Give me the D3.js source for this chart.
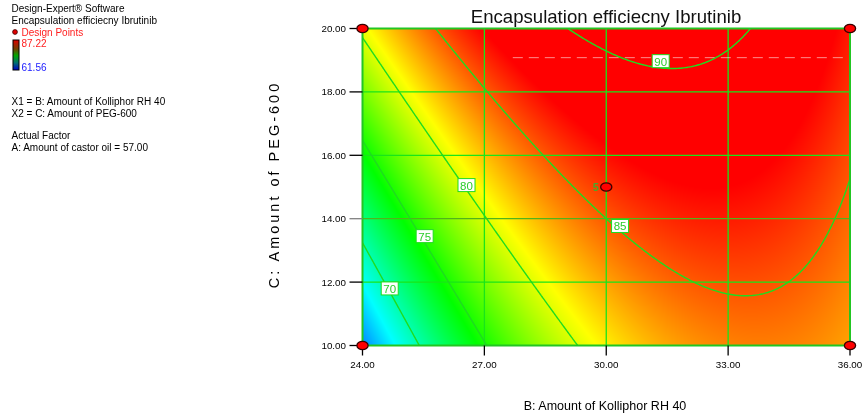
<!DOCTYPE html>
<html>
<head>
<meta charset="utf-8">
<script src="https://cdn.jsdelivr.net/npm/d3@7"></script>
<style>
  body { margin: 0; background: #fff; }
  #wrap { position: relative; width: 865px; height: 416px; overflow: hidden; }
  #heat, #chart { position: absolute; left: 0; top: 0; }
  text { font-family: Arial, "Liberation Sans", sans-serif; }
</style>
</head>
<body>
<div id="wrap">
  <canvas id="heat" width="865" height="416"></canvas>
  <svg id="chart" width="865" height="416"></svg>
</div>
<script>
// ---- Factor ranges and axis ticks ----
const bDomain = [24, 36];            // B: Amount of Kolliphor RH 40
const cDomain = [10, 20];            // C: Amount of PEG-600
const bTicks = [24, 27, 30, 33, 36];
const cTicks = [10, 12, 14, 16, 18, 20];

// ---- Fitted quadratic model (coded factors), A held at 57.00 ----
const modelTerms = ["Intercept", "B", "C", "BC", "B^2", "C^2"];
const modelCoefs = [85.95, 6.09, 4.75, -2.995, -7.13, -0.035];

// ---- Response range shown by the colour key ----
const responseMin = 61.56;
const responseMax = 87.22;

// ---- Contour levels and where their labels sit ----
const contourLevels = [70, 75, 80, 85, 90];
const labelB = [24.67, 25.53, 26.56, 30.34, 31.34];
const labelC = [11.80, 13.45, 15.06, 13.77, 18.97];

// ---- Design points in the B-C plane ----
const designB = [24, 36, 24, 36, 30];
const designC = [20, 20, 10, 10, 15];
const designReps = [1, 1, 1, 1, 5];

const svg = d3.select("#chart");
const x = d3.scaleLinear().domain(bDomain).range([362.5, 850]);
const y = d3.scaleLinear().domain(cDomain).range([345.5, 28.5]);

const bMid = (bDomain[0] + bDomain[1]) / 2, bHalf = (bDomain[1] - bDomain[0]) / 2;
const cMid = (cDomain[0] + cDomain[1]) / 2, cHalf = (cDomain[1] - cDomain[0]) / 2;
function predict(B, C) {
  const p = (B - bMid) / bHalf, q = (C - cMid) / cHalf;
  const k = modelCoefs;
  return k[0] + k[1] * p + k[2] * q + k[3] * p * q + k[4] * p * p + k[5] * q * q;
}

// Design-Expert style colour ramp: blue - cyan - green - yellow - red
const rampStops = d3.range(5).map(i => responseMin + i * (responseMax - responseMin) / 4);
const color = d3.scaleLinear()
  .domain(rampStops)
  .range(["#0000ff", "#00ffff", "#00ff00", "#ffff00", "#ff0000"])
  .clamp(true);

// ---- Shaded response surface on the canvas ----
const ctx = document.getElementById("heat").getContext("2d");
const px0 = Math.round(x.range()[0]), px1 = Math.round(x.range()[1]);
const py0 = Math.round(y.range()[1]), py1 = Math.round(y.range()[0]);
const w = px1 - px0, h = py1 - py0;
const img = ctx.createImageData(w, h);
for (let j = 0; j < h; j++) {
  const C = y.invert(py0 + j + 0.5);
  for (let i = 0; i < w; i++) {
    const B = x.invert(px0 + i + 0.5);
    const c = d3.rgb(color(predict(B, C)));
    const o = (j * w + i) * 4;
    img.data[o] = c.r; img.data[o + 1] = c.g; img.data[o + 2] = c.b; img.data[o + 3] = 255;
  }
}
ctx.putImageData(img, px0, py0);

// ---- Clip region = plot area ----
svg.append("defs").append("clipPath").attr("id", "plotClip")
  .append("rect")
  .attr("x", x(bDomain[0])).attr("y", y(cDomain[1]))
  .attr("width", x(bDomain[1]) - x(bDomain[0]))
  .attr("height", y(cDomain[0]) - y(cDomain[1]));

// ---- Grid lines ----
const grid = svg.append("g");
grid.selectAll("line.v").data(bTicks.slice(1, -1)).join("line")
  .attr("x1", d => x(d)).attr("x2", d => x(d))
  .attr("y1", y(cDomain[0])).attr("y2", y(cDomain[1]))
  .attr("stroke", "#19e619").attr("stroke-width", 1.3);
grid.selectAll("line.h").data(cTicks.slice(1, -1)).join("line")
  .attr("y1", d => y(d)).attr("y2", d => y(d))
  .attr("x1", x(bDomain[0])).attr("x2", x(bDomain[1]))
  .attr("stroke", d => d === 14 ? "#52b41a" : "#19e619").attr("stroke-width", 1.3);

// faint dashed guide near the top of the surface
svg.append("line")
  .attr("x1", x(27.7)).attr("x2", x(35.9))
  .attr("y1", y(19.08)).attr("y2", y(19.08))
  .attr("stroke", "#ffffff").attr("stroke-opacity", 0.55)
  .attr("stroke-width", 1).attr("stroke-dasharray", "10,6");

// ---- Contour lines ----
const nx = 320, ny = 240;
const gB0 = bDomain[0] - 0.15, gB1 = bDomain[1] + 0.15;
const gC0 = cDomain[1] + 0.15, gC1 = cDomain[0] - 0.15;
const stepB = (gB1 - gB0) / (nx - 1), stepC = (gC1 - gC0) / (ny - 1);
const values = new Float64Array(nx * ny);
for (let j = 0; j < ny; j++)
  for (let i = 0; i < nx; i++)
    values[j * nx + i] = predict(gB0 + i * stepB, gC0 + j * stepC);

const contours = d3.contours().size([nx, ny]).thresholds(contourLevels)(values);
const toPlot = d3.geoTransform({
  point(gx, gy) {
    this.stream.point(x(gB0 + (gx - 0.5) * stepB), y(gC0 + (gy - 0.5) * stepC));
  }
});
const path = d3.geoPath(toPlot);
svg.append("g").attr("clip-path", "url(#plotClip)")
  .selectAll("path").data(contours).join("path")
  .attr("d", path)
  .attr("fill", "none")
  .attr("stroke", "#1fdc1f")
  .attr("stroke-width", 1.4);

// ---- Plot border ----
svg.append("rect")
  .attr("x", x(bDomain[0])).attr("y", y(cDomain[1]))
  .attr("width", x(bDomain[1]) - x(bDomain[0]))
  .attr("height", y(cDomain[0]) - y(cDomain[1]))
  .attr("fill", "none").attr("stroke", "#22c622").attr("stroke-width", 2);

// ---- Contour labels ----
const lab = svg.append("g").selectAll("g").data(contourLevels).join("g")
  .attr("transform", (d, i) => `translate(${x(labelB[i])},${y(labelC[i])})`);
lab.append("rect")
  .attr("x", -8.5).attr("y", -6.5).attr("width", 17).attr("height", 13)
  .attr("fill", "#ffffff").attr("stroke", "#1fdc1f").attr("stroke-width", 1);
lab.append("text")
  .attr("text-anchor", "middle").attr("y", 4.5)
  .attr("font-size", 11.5).attr("fill", "#2ccc2c")
  .text(d => d);

// ---- Axes ----
const yAxis = svg.append("g");
yAxis.selectAll("line").data(cTicks).join("line")
  .attr("x1", x(bDomain[0]) - 13).attr("x2", x(bDomain[0]))
  .attr("y1", d => y(d)).attr("y2", d => y(d))
  .attr("stroke", d => d === 14 ? "#808080" : "#000").attr("stroke-width", 1.3);
yAxis.selectAll("text").data(cTicks).join("text")
  .attr("x", x(bDomain[0]) - 16.5).attr("y", d => y(d) + 3.5)
  .attr("text-anchor", "end").attr("font-size", 9.8).attr("fill", "#000")
  .text(d => d3.format(".2f")(d));

const xAxis = svg.append("g");
xAxis.selectAll("line").data(bTicks).join("line")
  .attr("x1", d => x(d)).attr("x2", d => x(d))
  .attr("y1", y(cDomain[0])).attr("y2", y(cDomain[0]) + 10)
  .attr("stroke", "#000").attr("stroke-width", 1.3);
xAxis.selectAll("text").data(bTicks).join("text")
  .attr("x", d => x(d)).attr("y", y(cDomain[0]) + 22)
  .attr("text-anchor", "middle").attr("font-size", 9.8).attr("fill", "#000")
  .text(d => d3.format(".2f")(d));

// ---- Design points ----
svg.append("g").selectAll("ellipse").data(designB).join("ellipse")
  .attr("cx", (d, i) => x(d)).attr("cy", (d, i) => y(designC[i]))
  .attr("rx", 5.6).attr("ry", 4.2)
  .attr("fill", "#ff0000").attr("stroke", "#3a0000").attr("stroke-width", 1.3);
const repIdx = designReps.map((r, i) => i).filter(i => designReps[i] > 1);
svg.append("g").selectAll("text").data(repIdx).join("text")
  .attr("x", i => x(designB[i]) - 10.5)
  .attr("y", i => y(designC[i]) + 3.5)
  .attr("text-anchor", "middle").attr("font-size", 11).attr("font-weight", "bold")
  .attr("fill", "#4aa82a")
  .text(i => designReps[i]);

// ---- Titles ----
svg.append("text")
  .attr("x", 606).attr("y", 22.5).attr("text-anchor", "middle")
  .attr("font-size", 18.6).attr("fill", "#111")
  .text("Encapsulation efficiecny Ibrutinib");
svg.append("text")
  .attr("x", 605).attr("y", 410).attr("text-anchor", "middle")
  .attr("font-size", 12.5).attr("fill", "#000")
  .text("B: Amount of Kolliphor RH 40");
svg.append("text")
  .attr("transform", "translate(279,184.5) rotate(-90)")
  .attr("text-anchor", "middle")
  .attr("font-size", 14.5).attr("letter-spacing", "3px").attr("fill", "#000")
  .text("C: Amount of PEG-600");

// ---- Legend block ----
const legend = svg.append("g").attr("font-size", 10);
const legendLines = [
  ["Design-Expert® Software", 11.5],
  ["Encapsulation efficiecny Ibrutinib", 23.5],
  ["X1 = B: Amount of Kolliphor RH 40", 105],
  ["X2 = C: Amount of PEG-600", 116.5],
  ["Actual Factor", 139],
  ["A: Amount of castor oil = 57.00", 150.5]
];
legend.selectAll("text.l").data(legendLines).join("text")
  .attr("x", 11.5).attr("y", d => d[1]).attr("fill", "#000").text(d => d[0]);
legend.append("circle").attr("cx", 15).attr("cy", 32).attr("r", 2.4)
  .attr("fill", "#e00000").attr("stroke", "#400000").attr("stroke-width", 0.8);
legend.append("text").attr("x", 21.5).attr("y", 35.5).attr("fill", "#ff2020").text("Design Points");

const grad = svg.select("defs").append("linearGradient")
  .attr("id", "keyGrad").attr("x1", 0).attr("x2", 0).attr("y1", 0).attr("y2", 1);
[["0%", "#e00000"], ["30%", "#704000"], ["52%", "#00a800"], ["76%", "#007070"], ["100%", "#0000c8"]]
  .forEach(s => grad.append("stop").attr("offset", s[0]).attr("stop-color", s[1]));
legend.append("rect").attr("x", 13).attr("y", 40).attr("width", 6).attr("height", 30)
  .attr("fill", "url(#keyGrad)").attr("stroke", "#000").attr("stroke-width", 1);
legend.append("text").attr("x", 21.5).attr("y", 46.5).attr("fill", "#ff2020")
  .text(d3.format(".2f")(responseMax));
legend.append("text").attr("x", 21.5).attr("y", 71).attr("fill", "#2020ff")
  .text(d3.format(".2f")(responseMin));
</script>
</body>
</html>
